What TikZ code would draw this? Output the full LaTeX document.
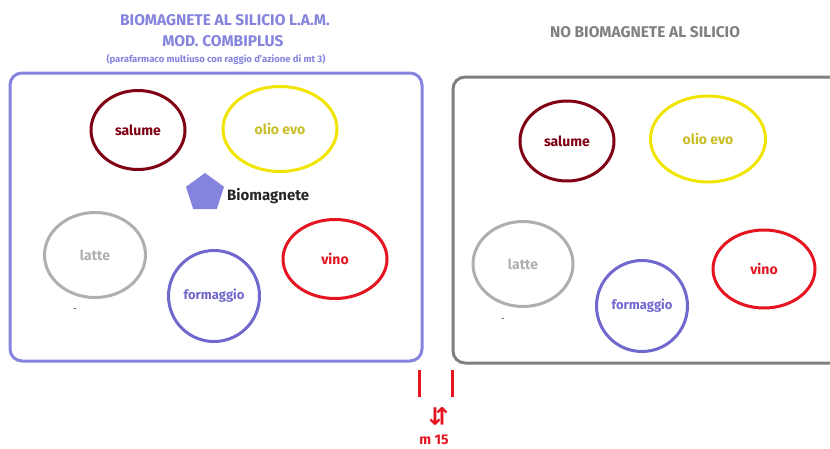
\documentclass[tikz,border=0pt]{standalone}
\usepackage{fontspec}
\setmainfont{Fira Sans}
\newfontfamily\symb{DejaVu Sans}
\usetikzlibrary{shapes.geometric}
\definecolor{lav}{RGB}{132,132,222}
\definecolor{grigio}{RGB}{128,128,128}
\definecolor{salc}{RGB}{128,0,20}
\definecolor{olioc}{RGB}{240,228,0}
\definecolor{oliot}{RGB}{200,190,40}
\definecolor{lattec}{RGB}{175,175,175}
\definecolor{formc}{RGB}{112,104,204}
\definecolor{vinoc}{RGB}{228,20,32}
\tikzset{
  cibo/.style={draw, ellipse, line width=3pt, font=\bfseries\fontsize{14}{16}\selectfont, inner sep=0pt},
  box/.style={draw, line width=3pt, rounded corners=12pt},
  tit/.style={font=\bfseries\fontsize{15.5}{17}\selectfont, align=center}
}
\begin{document}
\begin{tikzpicture}[x=1pt, y=-1pt]
\useasboundingbox (0,0) rectangle (830,448);
% titoli
\node[tit, text=lav] (t1) at (225,20) {BIOMAGNETE AL SILICIO L.A.M.};
\node[tit, text=lav] (t2) at (223,41) {MOD. COMBIPLUS};
\node[text=lav, font=\bfseries\fontsize{9.5}{10}\selectfont] (t3) at (216,59) {(parafarmaco multiuso con raggio d'azione di mt 3)};
\node[tit, text=grigio] (t4) at (645,32) {NO BIOMAGNETE AL SILICIO};
% riquadri
\draw[box, lav] (10,73) rectangle (422,361);
\draw[box, grigio] (453,77) rectangle (845,363);
% sinistra
\node[cibo, salc, minimum width=94pt, minimum height=79pt] (m) at (138,130) {salume};
\node[cibo, olioc, text=oliot, minimum width=114pt, minimum height=85pt] (n) at (280,129) {olio evo};
\node[cibo, lattec, minimum width=101pt, minimum height=85pt] (l) at (95,255) {latte};
\node[cibo, formc, minimum width=91pt, minimum height=91pt, font=\bfseries\fontsize{13}{15}\selectfont] (p) at (214,296) {formaggio};
\node[cibo, vinoc, minimum width=104pt, minimum height=79pt] (q) at (335,259) {vino};
\node[regular polygon, regular polygon sides=5, fill=lav, minimum size=40pt, inner sep=0pt] (b) at (205,193) {};
\node[anchor=west, font=\bfseries\fontsize{15}{16}\selectfont, text=black!85, inner sep=1pt] (bt) at (226,196) {Biomagnete};
\node[text=black!60, font=\bfseries\fontsize{8}{8}\selectfont] (d1) at (75,310) {-};
% destra
\node[cibo, salc, minimum width=94pt, minimum height=80pt] (m2) at (567,141) {salume};
\node[cibo, olioc, text=oliot, minimum width=115pt, minimum height=86pt] (n2) at (708,139) {olio evo};
\node[cibo, lattec, minimum width=100pt, minimum height=85pt] (l2) at (523,264) {latte};
\node[cibo, formc, minimum width=91pt, minimum height=91pt, font=\bfseries\fontsize{13}{15}\selectfont] (p2) at (642,306) {formaggio};
\node[cibo, vinoc, minimum width=102pt, minimum height=78pt] (q2) at (764,269) {vino};
\node[text=black!60, font=\bfseries\fontsize{8}{8}\selectfont] (d2) at (503,320) {-};
% distanza
\coordinate (a1) at (419,370);
\coordinate (a2) at (419,397);
\coordinate (c1) at (452,370);
\coordinate (c2) at (452,397);
\draw[vinoc, line width=3pt] (a1) -- (a2);
\draw[vinoc, line width=3pt] (c1) -- (c2);
\node[text=vinoc, rotate=90, font=\symb\bfseries\fontsize{24}{24}\selectfont, inner sep=0pt] (r) at (439,416) {⇆};
\node[text=vinoc, font=\bfseries\fontsize{14}{15}\selectfont, inner sep=0pt] (mt) at (434,440) {m 15};
\end{tikzpicture}
\end{document}
